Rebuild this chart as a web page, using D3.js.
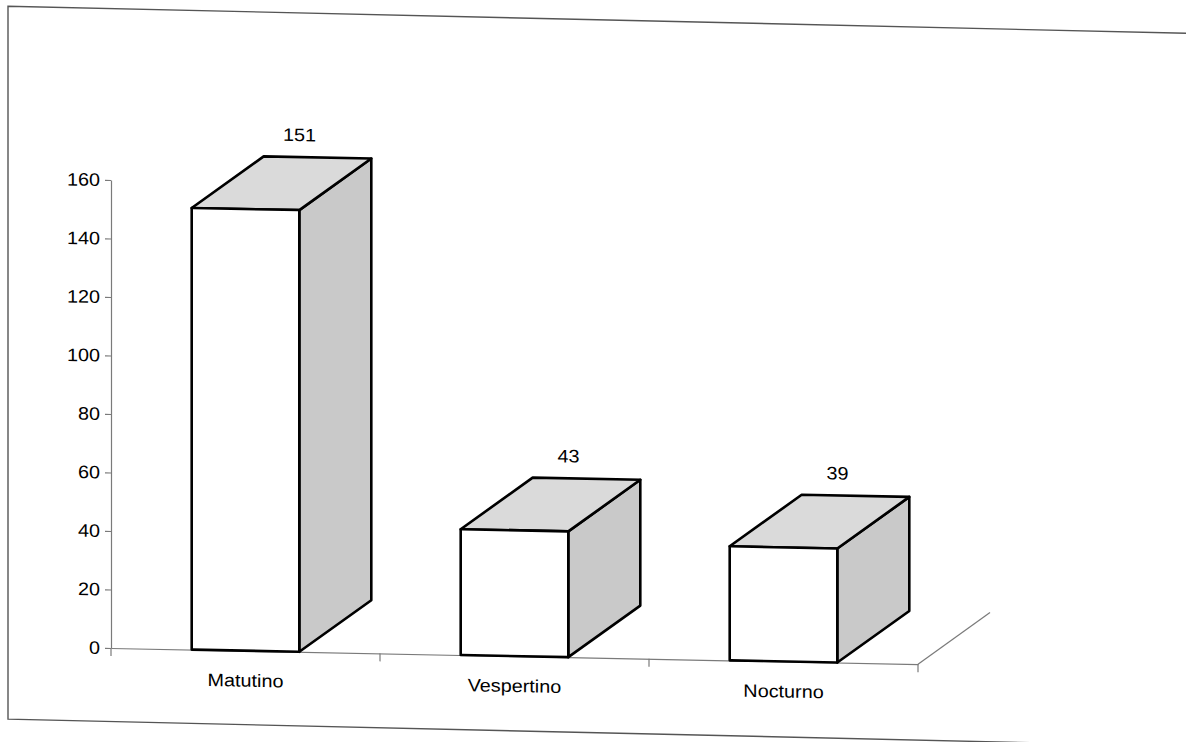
<!DOCTYPE html>
<html>
<head>
<meta charset="utf-8">
<script src="https://cdn.jsdelivr.net/npm/d3@7"></script>
<style>
    body { margin: 0; background: #fff; }
    svg { display: block; font-family: Arial, "Liberation Sans", sans-serif; }
    .axis path, .axis line { stroke: #7a7a7a; stroke-width: 1.2; }
    .axis text { font-size: 18px; fill: #000; }
</style>
</head>
<body>
<svg id="chart"></svg>
<script>
var categories = ["Matutino", "Vespertino", "Nocturno"];
var values = [151, 43, 39];
var yTicks = [0, 20, 40, 60, 80, 100, 120, 140, 160];

var W = 1186, H = 742;
var svg = d3.select("#chart").attr("width", W).attr("height", H);

// the scan is slightly tilted, so the page is drawn with a small skew
var frame = svg.append("g").attr("transform", "matrix(1,0.023,0,1,0,0)");
frame.append("path")
    .attr("d", "M1200,6 L8,6 L8,719 L1200,719")
    .attr("fill", "none")
    .attr("stroke", "#555")
    .attr("stroke-width", 1.4);

var root = svg.append("g").attr("transform", "matrix(1,0.02,0,1,0,-2.22)");

var xAxis = d3.scaleBand().domain(categories).range([111, 918]);
var yAxis = d3.scaleLinear().domain([0, 160]).range([648, 180]);

var depth = {dx: 72, dy: -53};
var barW = xAxis.bandwidth() * 0.4;

// floor depth edge on the right
root.append("line")
    .attr("x1", xAxis.range()[1]).attr("y1", yAxis(0))
    .attr("x2", xAxis.range()[1] + depth.dx).attr("y2", yAxis(0) + depth.dy)
    .attr("stroke", "#7a7a7a").attr("stroke-width", 1.2);

// category axis
var bounds = categories.map(function (c) { return xAxis(c); }).concat([xAxis.range()[1]]);
root.append("g")
    .attr("class", "axis")
    .attr("transform", "translate(0," + yAxis(0) + ")")
    .call(d3.axisBottom(xAxis).tickValues([]).tickSizeOuter(0))
    .call(function (g) {
        g.selectAll(".bnd").data(bounds).enter().append("line")
            .attr("x1", function (d) { return d; }).attr("x2", function (d) { return d; })
            .attr("y1", 0).attr("y2", 8)
            .attr("stroke", "#7a7a7a").attr("stroke-width", 1.2);
    });

// value axis
root.append("g")
    .attr("class", "axis")
    .attr("transform", "translate(111,0)")
    .call(d3.axisLeft(yAxis).tickValues(yTicks).tickSize(6).tickSizeOuter(0).tickPadding(4))
    .call(function (g) {
        g.selectAll("text").attr("transform", "scale(1.1,1)");
    });

var data = categories.map(function (c, i) { return {cat: c, value: values[i]}; });

var bars = root.selectAll(".bar").data(data).enter().append("g").attr("class", "bar");

function pts(list) {
    return list.map(function (p) { return p.join(","); }).join(" ");
}

bars.each(function (d) {
    var g = d3.select(this);
    var x0 = xAxis(d.cat) + (xAxis.bandwidth() - barW) / 2;
    var x1 = x0 + barW;
    var yt = yAxis(d.value), yb = yAxis(0);
    var dx = depth.dx, dy = depth.dy;
    var st = {stroke: "#000", "stroke-width": 2.6, "stroke-linejoin": "round"};

    var side = g.append("polygon")
        .attr("points", pts([[x1, yt], [x1 + dx, yt + dy], [x1 + dx, yb + dy], [x1, yb]]))
        .attr("fill", "#c9c9c9");
    var top = g.append("polygon")
        .attr("points", pts([[x0, yt], [x0 + dx, yt + dy], [x1 + dx, yt + dy], [x1, yt]]))
        .attr("fill", "#dadada");
    var front = g.append("rect")
        .attr("x", x0).attr("y", yt)
        .attr("width", barW).attr("height", yb - yt)
        .attr("fill", "#fff");
    [side, top, front].forEach(function (s) {
        Object.keys(st).forEach(function (k) { s.attr(k, st[k]); });
    });

    g.append("text")
        .attr("transform", "translate(" + (x0 + barW / 2 + 54) + "," + (yt + dy - 16) + ") scale(1.1,1)")
        .attr("text-anchor", "middle")
        .attr("font-size", 18)
        .attr("fill", "#000")
        .text(d.value);

    g.append("text")
        .attr("transform", "translate(" + (xAxis(d.cat) + xAxis.bandwidth() / 2) + "," + (yb + 36) + ") scale(1.1,1)")
        .attr("text-anchor", "middle")
        .attr("font-size", 18)
        .attr("fill", "#000")
        .text(d.cat);
});
</script>
</body>
</html>
